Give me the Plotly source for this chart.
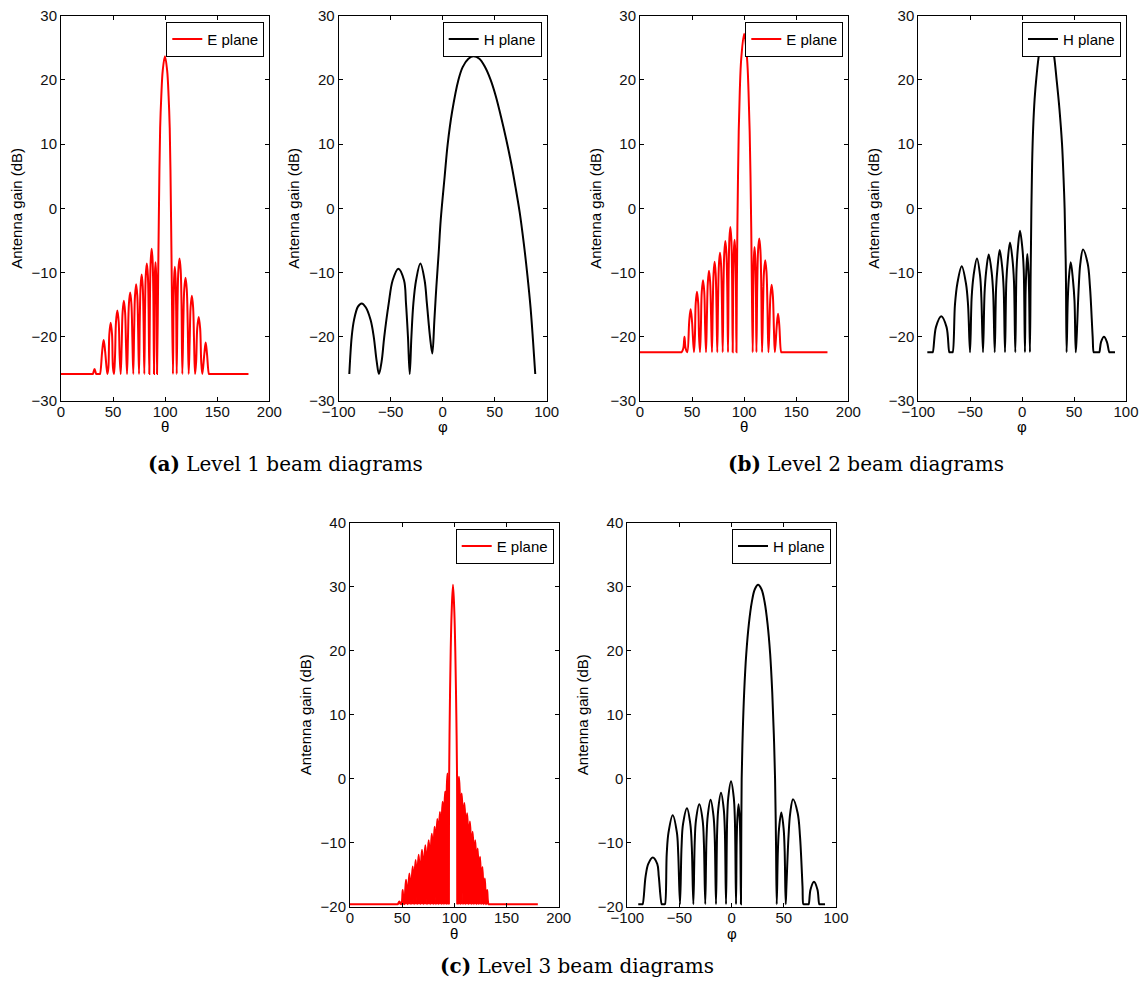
import plotly.graph_objects as go

# page is shown with the browser's default 8px body margin, so the figure is
# sized to fit inside the 1147x988 window and all pixel boxes are shifted by it
VIEW_W, VIEW_H, OFF = 1147, 988, 8
W, H = VIEW_W - 2 * OFF, VIEW_H - 2 * OFF
RED = "#ff0000"
BLACK = "#000000"

# ---------------- data ----------------
F1 = -25.8   # clipped floor, level 1
F2 = -22.4   # clipped floor, level 2
F3 = -19.6   # clipped floor, level 3

# Level 1, E plane (theta, dB)
E1_PTS = [(0, F1), (30.1, F1), (30.6, F1), (32.2, -25.0), (33.8, F1), (34.3, F1), (36.9, F1), (37.4, F1),
          (39.5, -22.3), (40.95, -20.5), (42.4, -22.3), (44.5, F1),
          (45.5, -24.8), (46.4, -19.6), (47.7, -17.8), (49.0, -19.6), (49.9, -24.8), (50.9, F1),
          (51.9, -22.9), (52.8, -17.7), (54.1, -15.9), (55.4, -17.7), (56.3, -22.9), (57.3, F1),
          (58.25, -21.4), (59.15, -16.2), (60.35, -14.4), (61.55, -16.2), (62.45, -21.4), (63.4, F1),
          (64.3, -20.1), (65.2, -14.9), (66.4, -13.1), (67.6, -14.9), (68.5, -20.1), (69.4, F1),
          (70.25, -18.8), (71.05, -13.6), (72.15, -11.8), (73.25, -13.6), (74.05, -18.8), (74.9, F1),
          (75.65, -17.3), (76.45, -12.1), (77.45, -10.3), (78.45, -12.1), (79.25, -17.3), (80.0, F1),
          (80.7, -15.6), (81.4, -10.4), (82.4, -8.6), (83.4, -10.4), (84.1, -15.6), (84.8, F1),
          (85.45, -13.3), (86.15, -8.1), (87.05, -6.3), (87.95, -8.1), (88.65, -13.3), (89.3, F1),
          (89.75, -15.4), (90.15, -10.2), (90.75, -8.4), (91.35, -10.2), (91.75, -15.4), (92.2, F1),
          (93.2, -12.0), (93.9, -2.0), (94.5, 6.0), (95.2, 12.5), (96.3, 17.5), (97.7, 21.5), (99.8, 23.7),
          (101.9, 21.5), (103.3, 17.5), (104.4, 12.5), (105.1, 6.0), (105.7, -2.0), (106.4, -12.0), (107.5, F1),
          (108.0, -16.1), (108.6, -10.9), (109.3, -9.1), (110.0, -10.9), (110.6, -16.1), (111.1, F1),
          (111.9, -14.8), (112.7, -9.6), (113.8, -7.8), (114.9, -9.6), (115.7, -14.8), (116.5, F1),
          (117.45, -17.8), (118.35, -12.6), (119.55, -10.8), (120.75, -12.6), (121.65, -17.8), (122.6, F1),
          (123.55, -20.6), (124.45, -15.4), (125.65, -13.6), (126.85, -15.4), (127.75, -20.6), (128.7, F1),
          (129.75, -23.9), (130.8, -18.7), (132.2, -16.9), (133.6, -18.7), (134.65, -23.9), (135.7, F1),
          (137.6, -22.7), (138.9, -20.9), (140.2, -22.7), (142.1, F1), (142.6, F1), (180, F1)]

# Level 1, H plane (phi, dB)
H1_PTS = [(-89.8, F1), (-87.5, -20.0), (-85.3, -17.4), (-81.5, -15.3), (-77.9, -14.8),
          (-74.0, -15.4), (-69.3, -17.4), (-66.3, -20.0), (-63.5, -23.8), (-61.3, -25.8),
          (-58.7, -23.8), (-56.2, -20.0), (-51.9, -14.8), (-48.1, -11.2), (-42.7, -9.4),
          (-37.2, -11.2), (-35.3, -14.8), (-33.4, -20.0), (-31.7, F1), (-30.1, -20.0),
          (-28.2, -14.8), (-25.6, -11.2), (-21.5, -8.6), (-17.4, -11.2), (-15.2, -14.8),
          (-12.2, -20.0), (-10.0, -22.6), (-8.0, -17.4), (-6.1, -12.2), (-3.9, -7.0),
          (-1.9, -1.8), (1.9, 5.0), (4.8, 10.0), (9.0, 15.0), (15.1, 20.0), (19.2, 22.0),
          (24.7, 23.3), (29.5, 23.7), (35.3, 23.3), (40.7, 22.0), (46.1, 20.0), (51.0, 17.5),
          (56.0, 14.3), (61.0, 10.8), (66.0, 6.9), (70.0, 3.3), (74.0, -0.6), (78.0, -5.5),
          (81.5, -10.5), (84.5, -15.5), (86.8, -20.5), (89.0, F1)]

# Level 2, E plane
E2_PTS = [(0, F2), (39.5, F2), (40.0, F2),
          (41.6, -21.8), (42.7, -20.0), (43.8, -21.8), (45.4, F2),
          (47.3, -17.5), (48.6, -15.7), (49.9, -17.5), (51.8, F2),
          (52.7, -20.0), (53.5, -14.8), (54.7, -13.0), (55.9, -14.8), (56.7, -20.0), (57.6, F2),
          (58.5, -18.2), (59.3, -13.0), (60.5, -11.2), (61.7, -13.0), (62.5, -18.2), (63.4, F2),
          (64.25, -16.7), (65.15, -11.5), (66.25, -9.7), (67.35, -11.5), (68.25, -16.7), (69.1, F2),
          (69.85, -15.3), (70.65, -10.1), (71.65, -8.3), (72.65, -10.1), (73.45, -15.3), (74.2, F2),
          (75.0, -13.9), (75.8, -8.7), (76.8, -6.9), (77.8, -8.7), (78.6, -13.9), (79.4, F2),
          (80.15, -12.1), (80.95, -6.9), (81.95, -5.1), (82.95, -6.9), (83.75, -12.1), (84.5, F2),
          (85.15, -9.9), (85.85, -4.7), (86.75, -2.9), (87.65, -4.7), (88.35, -9.9), (89.0, F2),
          (89.5, -11.9), (90.1, -6.7), (90.8, -4.9), (91.5, -6.7), (92.1, -11.9), (92.6, F2),
          (93.0, -12.0), (93.5, -3.0), (94.1, 5.0), (94.8, 12.0), (95.8, 18.2), (97.2, 23.3), (100.0, 27.2),
          (102.8, 23.3), (104.2, 18.2), (105.3, 12.0), (106.1, 5.0), (106.8, -3.0), (107.4, -12.0), (108.2, F2),
          (108.7, -13.0), (109.3, -7.8), (110.0, -6.0), (110.7, -7.8), (111.3, -13.0), (111.8, F2),
          (112.6, -11.7), (113.4, -6.5), (114.5, -4.7), (115.6, -6.5), (116.4, -11.7), (117.2, F2),
          (118.15, -15.1), (119.05, -9.9), (120.25, -8.1), (121.45, -9.9), (122.35, -15.1), (123.3, F2),
          (124.2, -18.9), (125.2, -13.7), (126.4, -11.9), (127.6, -13.7), (128.6, -18.9), (129.5, F2),
          (131.35, -18.2), (132.55, -16.4), (133.75, -18.2), (135.6, F2), (136.1, F2), (180, F2)]

# Level 2, H plane
H2_PTS = [(-91.3, F2), (-86.6, F2), (-86.1, F2),
          (-83.0, -18.5), (-77.9, -16.8), (-72.8, -18.5), (-70.1, F2), (-69.6, F2), (-67.4, F2), (-66.9, F2),
          (-64.7, -15.0), (-62.4, -11.7), (-58.2, -9.0), (-54.1, -11.7), (-52.1, -15.0), (-50.2, F2),
          (-48.6, -13.8), (-46.8, -10.5), (-43.5, -7.8), (-40.5, -10.5), (-39.3, -13.8), (-37.7, F2),
          (-36.2, -13.2), (-34.7, -9.9), (-32.2, -7.2), (-29.4, -9.9), (-27.9, -13.2), (-26.4, F2),
          (-25.1, -12.5), (-23.7, -9.2), (-21.6, -6.5), (-19.2, -9.2), (-17.8, -12.5), (-16.5, F2),
          (-15.2, -11.3), (-13.8, -8.0), (-11.7, -5.3), (-9.3, -8.0), (-7.9, -11.3), (-6.6, F2),
          (-5.4, -9.5), (-4.1, -6.2), (-2.1, -3.5), (0.2, -6.2), (1.5, -9.5), (2.7, F2),
          (3.3, -13.1), (4.0, -9.8), (5.0, -7.1), (6.1, -9.8), (6.7, -13.1), (7.5, F2),
          (8.2, -10.0), (8.9, 0.0), (9.6, 7.0), (10.6, 12.5), (12.0, 17.0), (13.8, 20.5), (16.2, 23.9),
          (19.3, 26.2), (23.3, 27.1), (27.5, 26.2), (30.5, 24.0), (33.2, 20.0), (35.9, 15.5),
          (38.4, 10.0), (39.8, 5.0), (40.9, 0.0), (42.1, -10.0), (42.8, F2),
          (43.9, -14.4), (44.9, -11.1), (46.8, -8.4), (48.9, -11.1), (50.4, -14.4), (51.6, F2),
          (52.5, -20.0), (54.5, -12.2), (56.0, -8.6), (58.6, -6.4), (63.1, -8.6), (65.3, -12.2),
          (67.9, -20.0), (68.9, F2), (69.4, F2), (73.8, F2), (74.3, F2),
          (76.0, -20.8), (78.8, -20.0), (81.6, -20.8), (83.9, F2), (84.4, F2), (89.4, F2)]

# Level 3, E plane: side lobes left of the main beam, main beam, side lobes right of it
E3_LEFT = [(0, F3), (45.3, F3), (45.8, F3), (47.3, -19.2), (48.9, F3),
           (49.6, -19.4), (50.5, -17.4), (51.4, -19.4), (52.1, F3),
           (52.8, -17.8), (53.7, -15.8), (54.6, -17.8), (55.3, F3),
           (56.0, -16.8), (56.9, -14.8), (57.8, -16.8), (58.5, F3),
           (59.2, -15.7), (60.1, -13.7), (60.95, -15.7), (61.5, F3),
           (62.05, -14.7), (62.9, -12.7), (63.7, -14.7), (64.4, F3),
           (64.95, -13.9), (65.8, -11.9), (66.65, -13.9), (67.4, F3),
           (68.15, -13.1), (69.0, -11.1), (69.85, -13.1), (70.6, F3),
           (71.35, -12.4), (72.2, -10.4), (73.05, -12.4), (73.8, F3),
           (74.55, -11.6), (75.4, -9.6), (76.25, -11.6), (76.9, F3),
           (77.6, -10.6), (78.4, -8.6), (79.2, -10.6), (79.8, F3),
           (80.4, -9.5), (81.1, -7.5), (81.8, -9.5), (82.4, F3),
           (83.0, -8.3), (83.7, -6.3), (84.4, -8.3), (85.0, F3),
           (85.5, -7.2), (86.2, -5.2), (86.9, -7.2), (87.5, F3),
           (88.1, -5.6), (88.8, -3.6), (89.5, -5.6), (90.0, F3),
           (90.6, -4.0), (91.2, -2.0), (91.8, -4.0), (92.3, F3),
           (92.8, -1.2), (93.4, 0.8), (94.0, -1.2), (94.6, F3)]
E3_MAIN = [(94.6, F3), (95.0, 0.0), (95.6, 10.0), (96.5, 20.0), (97.4, 26.0), (98.7, 30.3), (100.0, 26.0),
           (100.9, 20.0), (101.9, 10.0), (102.6, 0.0), (103.0, F3)]
E3_RIGHT = [(103.0, F3), (103.7, -1.7), (104.4, 0.3), (105.1, -1.7), (105.7, F3),
            (106.3, -4.3), (107.0, -2.3), (107.7, -4.3), (108.3, F3),
            (108.9, -5.8), (109.6, -3.8), (110.3, -5.8), (110.9, F3),
            (111.5, -7.4), (112.2, -5.4), (112.9, -7.4), (113.5, F3),
            (114.2, -8.7), (114.9, -6.7), (115.6, -8.7), (116.2, F3),
            (116.8, -10.3), (117.5, -8.3), (118.2, -10.3), (118.7, F3),
            (119.3, -11.6), (120.0, -9.6), (120.6, -11.6), (121.1, F3),
            (121.7, -12.9), (122.3, -10.9), (122.9, -12.9), (123.4, F3),
            (124.0, -14.2), (124.6, -12.2), (125.2, -14.2), (125.7, F3),
            (126.3, -15.8), (126.9, -13.8), (127.5, -15.8), (128.0, F3),
            (128.6, -17.6), (129.2, -15.6), (129.8, -17.6), (130.3, F3),
            (130.9, -19.0), (131.5, -17.4), (132.1, -19.0), (132.8, F3),
            (133.3, F3), (180, F3)]

# Level 3, H plane
H3_PTS = [(-89.5, F3), (-85.8, F3), (-85.3, F3),
          (-82.5, -15.3), (-79.9, -13.3), (-75.6, -12.3), (-71.3, -13.3), (-69.8, -15.3), (-67.0, F3),
          (-66.5, F3), (-64.4, F3), (-63.9, F3),
          (-62.2, -11.7), (-60.5, -8.4), (-56.5, -5.7), (-52.5, -8.4), (-51.2, -11.7), (-49.5, F3),
          (-48.0, -10.6), (-46.6, -7.1), (-42.8, -4.6), (-39.6, -7.1), (-38.2, -10.6), (-36.7, F3),
          (-35.4, -10.0), (-34.2, -6.5), (-31.0, -4.0), (-27.8, -6.5), (-26.6, -10.0), (-25.3, F3),
          (-24.1, -9.3), (-22.9, -5.8), (-20.2, -3.3), (-17.4, -5.8), (-16.2, -9.3), (-15.0, F3),
          (-13.9, -8.2), (-12.8, -4.7), (-10.2, -2.2), (-7.6, -4.7), (-6.5, -8.2), (-5.4, F3),
          (-4.3, -6.4), (-3.2, -2.9), (-0.6, -0.4), (2.0, -2.9), (3.1, -6.4), (4.2, F3),
          (4.8, -10.0), (5.4, -6.5), (6.6, -4.0), (7.8, -6.5), (8.3, -10.0), (8.9, F3),
          (9.2, -10.0), (9.6, 0.0), (10.6, 7.0), (12.0, 13.5), (14.0, 19.5), (16.5, 24.2),
          (19.3, 27.6), (22.2, 29.6), (25.3, 30.3), (28.6, 29.6), (31.6, 27.6), (34.4, 24.2),
          (36.9, 19.5), (38.9, 13.5), (40.4, 7.0), (41.6, 0.0), (42.5, -10.0), (43.2, F3),
          (44.3, -11.3), (45.4, -7.8), (47.6, -5.3), (49.8, -7.8), (50.8, -11.3), (51.8, F3),
          (52.5, -16.8), (54.5, -9.0), (56.1, -5.4), (58.8, -3.2), (63.3, -5.4), (65.5, -9.0),
          (67.9, -16.8), (68.7, F3), (69.2, F3), (73.3, F3), (73.8, F3),
          (75.6, -17.3), (78.9, -16.1), (82.2, -17.3), (84.0, F3), (84.5, F3), (89.5, F3)]

# tick labels / ranges
E_XTICKS = [0, 50, 100, 150, 200]
H_XTICKS = [-100, -50, 0, 50, 100]
Y12_TICKS = [-30, -20, -10, 0, 10, 20, 30]
Y3_TICKS = [-20, -10, 0, 10, 20, 30, 40]

CAPTIONS = ["<b>(a)</b> Level 1 beam diagrams",
            "<b>(b)</b> Level 2 beam diagrams",
            "<b>(c)</b> Level 3 beam diagrams"]

# ---------------- layout (pixel boxes of each axes, window coordinates) ----------------
panels = [
    dict(series=[(E1_PTS, False, True)], color=RED, name="E plane", xt=E_XTICKS, yt=Y12_TICKS, xlab="θ",
         box=(61, 269.3, 15.7, 401), xlab_dy=25),
    dict(series=[(H1_PTS, False, True)], color=BLACK, name="H plane", xt=H_XTICKS, yt=Y12_TICKS, xlab="φ",
         box=(338.7, 546.7, 15.7, 401), xlab_dy=25),
    dict(series=[(E2_PTS, False, True)], color=RED, name="E plane", xt=E_XTICKS, yt=Y12_TICKS, xlab="θ",
         box=(640, 848.3, 15.7, 401), xlab_dy=25),
    dict(series=[(H2_PTS, False, True)], color=BLACK, name="H plane", xt=H_XTICKS, yt=Y12_TICKS, xlab="φ",
         box=(918.3, 1126, 15.7, 401), xlab_dy=25),
    dict(series=[(E3_LEFT, True, False), (E3_MAIN, False, True), (E3_RIGHT, True, False)],
         color=RED, name="E plane", xt=E_XTICKS, yt=Y3_TICKS, xlab="θ",
         box=(350, 558.7, 522.7, 906.7), xlab_dy=26.5),
    dict(series=[(H3_PTS, False, True)], color=BLACK, name="H plane", xt=H_XTICKS, yt=Y3_TICKS, xlab="φ",
         box=(627.3, 836, 522.7, 906.7), xlab_dy=27),
]


def fx(px):
    return (px - OFF) / W


def fy(py):
    return 1 - (py - OFF) / H


SANS = "Liberation Sans, Arial, sans-serif"
SERIF = "DejaVu Serif, serif"
fig = go.Figure()
layout = dict(width=W, height=H, margin=dict(l=0, r=0, t=0, b=0, autoexpand=False),
              paper_bgcolor="white", plot_bgcolor="white",
              font=dict(family=SANS, size=15, color="black"))
annotations = []

for i, p in enumerate(panels, start=1):
    sfx = "" if i == 1 else str(i)
    lg = "legend" if i == 1 else f"legend{i}"
    for pts, filled, inlegend in p["series"]:
        xs = [q[0] for q in pts]
        ys = [q[1] for q in pts]
        fig.add_trace(go.Scatter(
            x=xs, y=ys, mode="lines", name=p["name"],
            line=dict(color=p["color"], width=2, shape="spline", smoothing=1.0),
            fill="toself" if filled else None, fillcolor=p["color"] if filled else None,
            xaxis=f"x{sfx}", yaxis=f"y{sfx}", legend=lg, showlegend=inlegend,
            hoverinfo="skip"))
    x0, x1, y0, y1 = p["box"]
    common = dict(showline=True, linecolor="black", linewidth=1, mirror="ticks",
                  ticks="inside", ticklen=4, tickwidth=1, tickcolor="black",
                  showgrid=False, zeroline=False, automargin=False,
                  ticklabeloverflow="allow",
                  tickfont=dict(family=SANS, size=15, color="#111"))
    layout[f"xaxis{sfx}"] = dict(
        domain=[fx(x0), fx(x1)], anchor=f"y{sfx}",
        range=[p["xt"][0], p["xt"][-1]], tickvals=p["xt"], ticklabelstandoff=-3,
        **common)
    layout[f"yaxis{sfx}"] = dict(
        domain=[fy(y1), fy(y0)], anchor=f"x{sfx}",
        range=[p["yt"][0], p["yt"][-1]], tickvals=p["yt"],
        title=dict(text="Antenna gain (dB)", standoff=5, font=dict(family=SANS, size=15)),
        **common)
    layout[lg] = dict(x=fx(x1 - 5), y=fy(y0 + 6), xanchor="right", yanchor="top",
                      bgcolor="white", bordercolor="black", borderwidth=1,
                      font=dict(family=SANS, size=15, color="black"),
                      itemwidth=30, tracegroupgap=0)
    # x-axis title (theta / phi), centred under the axes
    annotations.append(dict(text=p["xlab"], x=fx((x0 + x1) / 2), y=fy(y1 + p["xlab_dy"]),
                            xref="paper", yref="paper", xanchor="center", yanchor="middle",
                            showarrow=False, borderpad=0,
                            font=dict(family=SANS, size=15, color="black")))

for text, cx, cy in [(CAPTIONS[0], 285, 464), (CAPTIONS[1], 866, 464), (CAPTIONS[2], 577, 966)]:
    annotations.append(dict(text=text, x=fx(cx), y=fy(cy), xref="paper", yref="paper",
                            xanchor="center", yanchor="middle", showarrow=False, borderpad=0,
                            font=dict(family=SERIF, size=20, color="black")))
layout["annotations"] = annotations

fig.update_layout(**layout)
fig.write_html("out.html")
